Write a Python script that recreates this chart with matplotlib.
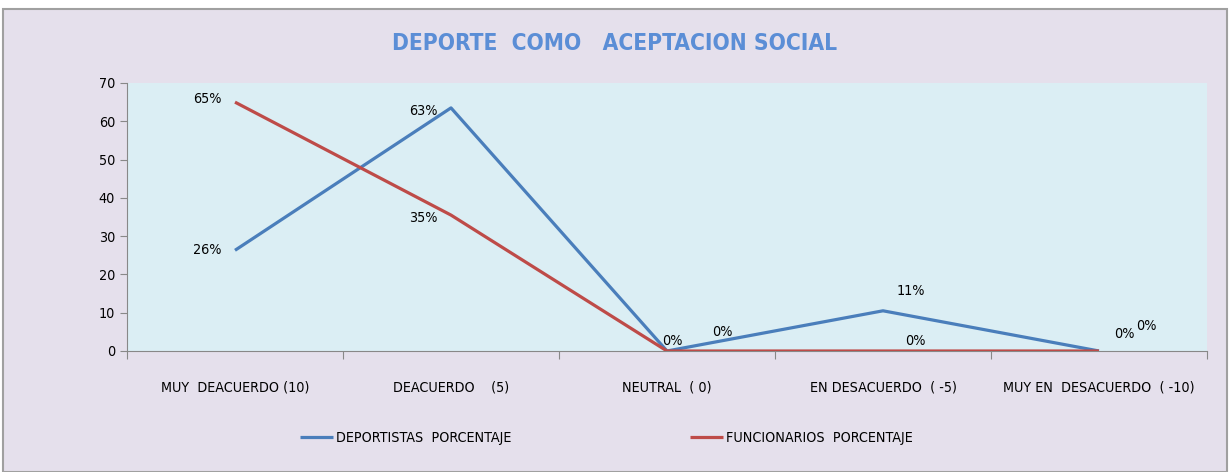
import matplotlib
matplotlib.use("Agg")
import matplotlib.pyplot as plt
from matplotlib.patches import Rectangle

categories = ["MUY  DEACUERDO (10)", "DEACUERDO    (5)", "NEUTRAL  ( 0)",
              "EN DESACUERDO  ( -5)", "MUY EN  DESACUERDO  ( -10)"]
deportistas = [26.3, 63.5, 0, 10.5, 0]
funcionarios = [65, 35.5, 0, 0, 0]
dep_labels = ["26%", "63%", "0%", "11%", "0%"]
fun_labels = ["65%", "35%", "0%", "0%", "0%"]
yticks = [0, 10, 20, 30, 40, 50, 60, 70]

plt.rcParams['font.family'] = ['DejaVu Sans']
plt.rcParams['font.stretch'] = 'condensed'

fig = plt.figure(figsize=(12.3, 4.72), dpi=100)
fig.patch.set_facecolor("white")
fig.patches.append(Rectangle((3/1230, 0), 1 - 6/1230, 1 - 9/472, transform=fig.transFigure,
                             facecolor="#E5E0EC", edgecolor="#A0A0A0", linewidth=1.5, zorder=-10))

ax = fig.add_axes([127/1230, 1 - 351/472, 1080/1230, 268/472])
ax.set_facecolor("#DBEEF4")
x = list(range(len(categories)))
ax.plot(x, deportistas, color="#4A7EBB", linewidth=2.3, solid_capstyle="butt", label="DEPORTISTAS  PORCENTAJE", zorder=3)
ax.plot(x, funcionarios, color="#BE4B48", linewidth=2.3, solid_capstyle="butt", label="FUNCIONARIOS  PORCENTAJE", zorder=3)
ax.set_xlim(-0.5, len(categories) - 0.5)
ax.set_ylim(0, 70)
ax.set_yticks(yticks)
ax.set_xticks([i - 0.5 for i in range(len(categories) + 1)])
ax.set_xticklabels([])
ax.set_xticks(x, minor=True)
ax.set_xticklabels(categories, minor=True)
ax.tick_params(axis="x", which="minor", length=0, pad=21, labelsize=10.3)
ax.tick_params(axis="x", which="major", length=6, color="#888888", direction="out")
ax.tick_params(axis="y", length=5, color="#888888", labelsize=10.3)
for s in ["top", "right"]:
    ax.spines[s].set_visible(False)
for s in ["left", "bottom"]:
    ax.spines[s].set_color("#888888")

fs = 10.3
dep_off = [(-20, 0), (-20, -2), (4, 7), (20, 14), (18, 12)]
fun_off = [(-20, 2), (-20, -2), (40, 14), (23, 7), (34, 18)]
for i, (v, l) in enumerate(zip(deportistas, dep_labels)):
    ax.annotate(l, (i, v), xytext=dep_off[i], textcoords="offset points", ha="center", va="center", fontsize=fs)
for i, (v, l) in enumerate(zip(funcionarios, fun_labels)):
    ax.annotate(l, (i, v), xytext=fun_off[i], textcoords="offset points", ha="center", va="center", fontsize=fs)

fig.text(0.5, 1 - 44/472, "DEPORTE  COMO   ACEPTACION SOCIAL", ha="center", va="center",
         fontsize=16.3, color="#5B8ED6", fontweight="bold")

fig.legend(loc="center", bbox_to_anchor=(0.493, 1 - 438/472), ncol=2, frameon=False,
           fontsize=10.3, handlelength=2.3, columnspacing=12.5, handletextpad=0.2)

fig.savefig("out.png", dpi=100, facecolor=fig.get_facecolor())
